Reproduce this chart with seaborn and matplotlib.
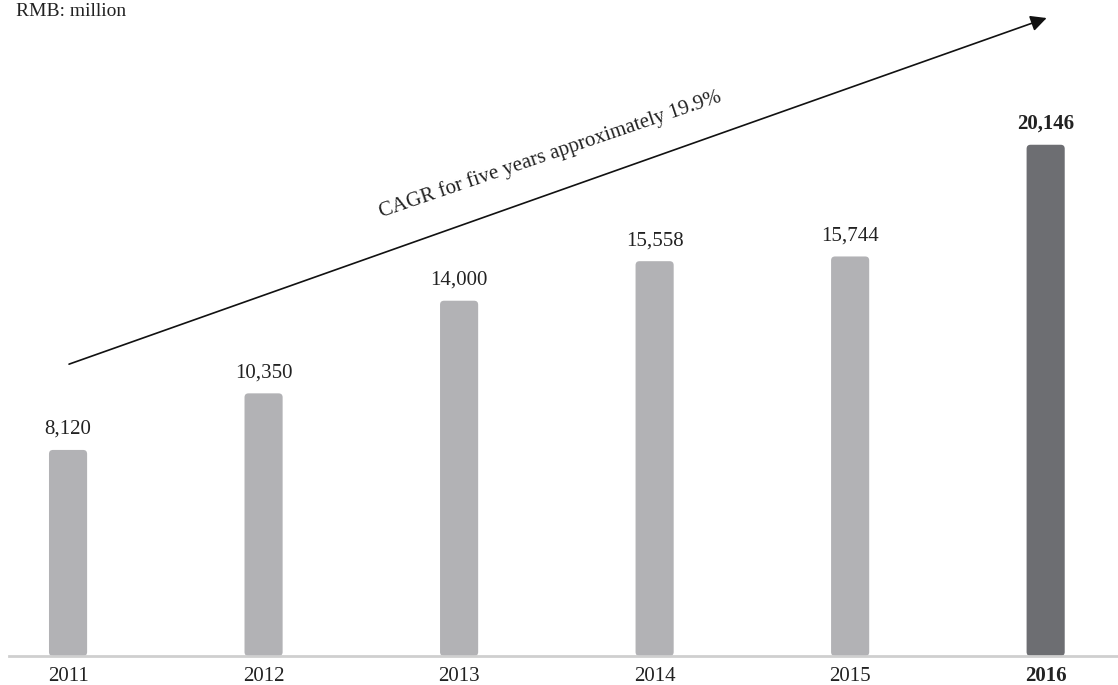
import numpy as np
import pandas as pd
import matplotlib.pyplot as plt
import seaborn as sns
from matplotlib.patches import FancyBboxPatch

# Revenue by year (RMB million)
years = ["2011", "2012", "2013", "2014", "2015", "2016"]
values = [8120, 10350, 14000, 15558, 15744, 20146]
bar_colors = ["#b2b2b5"] * 5 + ["#6d6e72"]
cagr_label = "CAGR for five years approximately 19.9%"
unit_label = "RMB: million"

df = pd.DataFrame({"Year": years, "Value": values})

sns.set_style("white")
plt.rcParams["font.family"] = ["Liberation Serif", "DejaVu Serif"]

fig = plt.figure(figsize=(11.18, 6.85), dpi=100)
ax = fig.add_axes([9 / 1118, 29 / 685, 1 - 9 / 1118, 656 / 685])

sns.barplot(data=df, x="Year", y="Value", hue="Year", palette=bar_colors,
            width=0.195, legend=False, ax=ax, saturation=1)

ax.set_xlim(-0.302, 5.37)
ax.set_ylim(0, 25850)

# round the bar corners a little
px_x = 1 / 195.6
px_y = 25850 / 656
for p in list(ax.patches):
    box = FancyBboxPatch((p.get_x(), p.get_y()), p.get_width(), p.get_height(),
                         boxstyle=f"round,pad=0,rounding_size={4 * px_x}",
                         mutation_aspect=px_y / px_x,
                         facecolor=p.get_facecolor(), edgecolor="none")
    p.remove()
    ax.add_patch(box)

# value labels
for i, v in enumerate(values):
    bold = i == len(values) - 1
    ax.text(i, v + 16 * px_y, f"{v:,}", ha="center", va="baseline", fontsize=15,
            fontweight="bold" if bold else "normal", color="#222222")

# year labels below axis
ax.set_xticks([])
ax.set_yticks([])
for i, y in enumerate(years):
    bold = i == len(years) - 1
    ax.text(i, -25 * px_y, y, ha="center", va="baseline", fontsize=15,
            fontweight="bold" if bold else "normal", color="#222222")

for s in ["top", "right", "left"]:
    ax.spines[s].set_visible(False)
ax.spines["bottom"].set_color("#cfcfcf")
ax.spines["bottom"].set_linewidth(2)
ax.set_xlabel("")
ax.set_ylabel("")

# CAGR arrow
ax.annotate("", xy=(5.005, 25140), xytext=(0.005, 11500),
            arrowprops=dict(arrowstyle="-|>", color="#111111", lw=1.2,
                            mutation_scale=24, shrinkA=0, shrinkB=0),
            annotation_clip=False)
ax.text(2.464, 19750, cagr_label, rotation=18.8, ha="center", va="center",
        fontsize=15, color="#222222", rotation_mode="anchor")

fig.text(16 / 1118, 1 - 16 / 685, unit_label, ha="left", va="baseline",
         fontsize=14, color="#222222")

fig.savefig("out.png", dpi=100)
